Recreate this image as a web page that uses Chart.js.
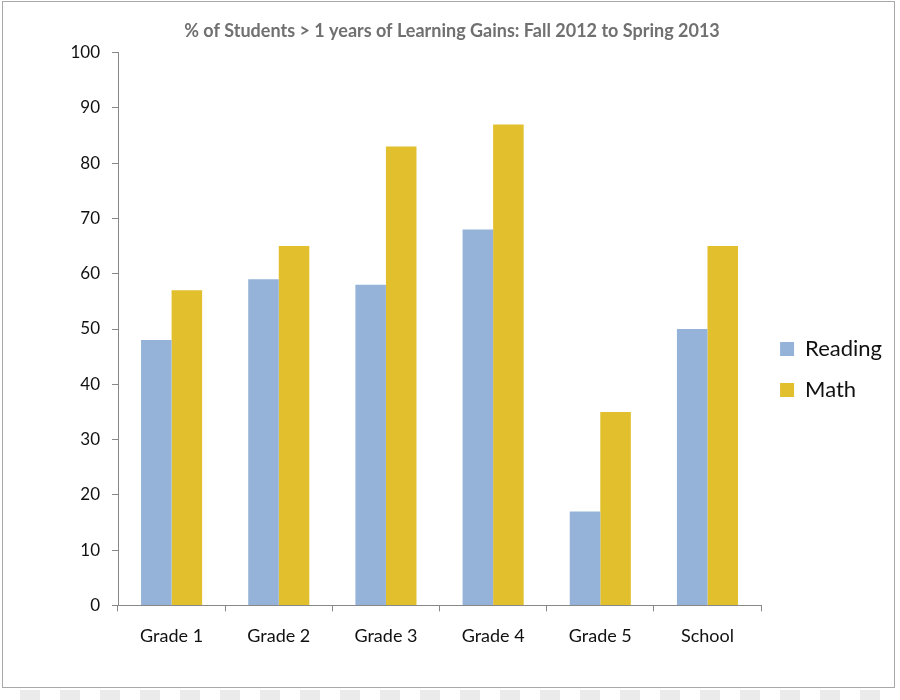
<!DOCTYPE html>
<html>
<head>
<meta charset="utf-8">
<script src="https://cdn.jsdelivr.net/npm/chart.js@4.4.1/dist/chart.umd.min.js"></script>
<style>
  html, body { margin: 0; padding: 0; background: #fff; }
  #wrap { position: relative; width: 900px; height: 700px; overflow: hidden; }
  #frame { position: absolute; left: 2px; top: 1px; width: 893px; height: 687px; border: 1.5px solid #a8a8a8; box-sizing: border-box; }
  #strip { position: absolute; left: 0; top: 690px; width: 900px; height: 10px;
    background: repeating-linear-gradient(90deg, #fff 0 20px, #ebebeb 20px 40px); }
  canvas { position: absolute; left: 0; top: 0; }
</style>
</head>
<body>
<div id="wrap">
  <div id="frame"></div>
  <div id="strip"></div>
  <canvas id="c" width="900" height="700"></canvas>
</div>
<script>
const categories = ["Grade 1", "Grade 2", "Grade 3", "Grade 4", "Grade 5", "School"];
const readingValues = [48, 59, 58, 68, 17, 50];
const mathValues = [57, 65, 83, 87, 35, 65];
const titleText = "% of Students > 1 years of Learning Gains: Fall 2012 to Spring 2013";

const FONT = "Lato, 'Open Sans', sans-serif";

new Chart(document.getElementById('c'), {
  type: 'bar',
  data: {
    labels: categories,
    datasets: [
      { label: 'Reading', data: readingValues, backgroundColor: '#95b3d8', borderWidth: 0 },
      { label: 'Math', data: mathValues, backgroundColor: '#e2bf2c', borderWidth: 0 }
    ]
  },
  options: {
    responsive: false,
    animation: false,
    devicePixelRatio: 1,
    layout: { padding: { left: 12, right: 8, top: 0, bottom: 39 } },
    datasets: { bar: { categoryPercentage: 0.57, barPercentage: 1.0 } },
    plugins: {
      title: {
        display: true,
        text: titleText,
        color: '#707070',
        font: { family: FONT, size: 18, weight: 'bold' },
        padding: { top: 20, bottom: 11 }
      },
      legend: {
        position: 'right',
        title: { display: true, text: '', font: { size: 10 }, padding: { top: 33, bottom: 33 } },
        labels: {
          boxWidth: 14,
          boxHeight: 14,
          padding: 19,
          color: '#111',
          font: { family: FONT, size: 22 }
        }
      },
      tooltip: { enabled: false }
    },
    scales: {
      x: {
        grid: { drawOnChartArea: false, drawTicks: true, tickLength: 6, color: '#888', offset: true },
        border: { color: '#888', width: 1 },
        ticks: { color: '#111', padding: 14, font: { family: FONT, size: 18 } }
      },
      y: {
        min: 0, max: 100,
        afterFit: (scale) => { scale.width = 106; },
        grid: { drawOnChartArea: false, drawTicks: true, tickLength: 6, color: '#888' },
        border: { color: '#888', width: 1 },
        ticks: { stepSize: 10, color: '#111', padding: 12, font: { family: FONT, size: 17 } }
      }
    }
  }
});
</script>
</body>
</html>
